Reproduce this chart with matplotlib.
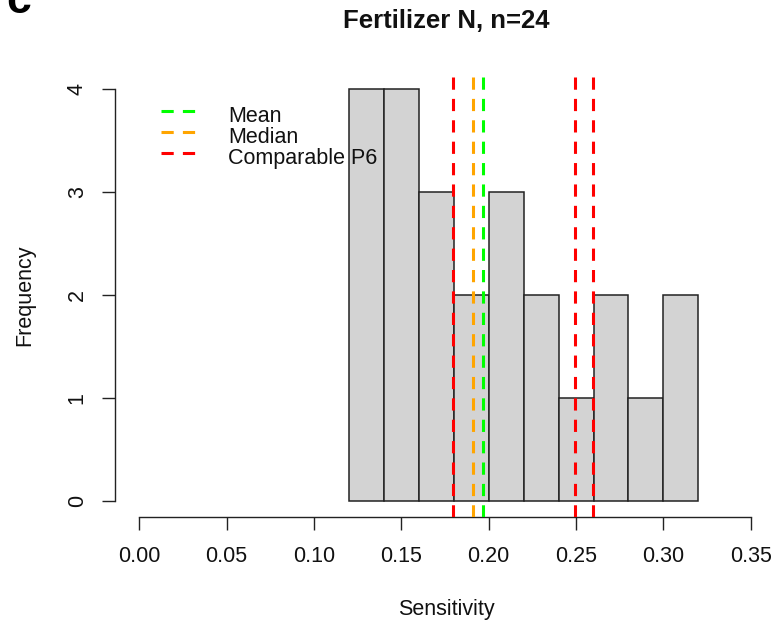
import matplotlib
matplotlib.use("Agg")
import matplotlib.pyplot as plt
import numpy as np

# ===== DATA =====
bin_edges = [0.12, 0.14, 0.16, 0.18, 0.20, 0.22, 0.24, 0.26, 0.28, 0.30, 0.32]
counts = [4, 4, 3, 2, 3, 2, 1, 2, 1, 2]
mean_sens = 0.197
median_sens = 0.191
p6_sens = [0.1795, 0.2495, 0.2595]

x_ticks = [0.00, 0.05, 0.10, 0.15, 0.20, 0.25, 0.30, 0.35]
x_tick_labels = ["0.00", "0.05", "0.10", "0.15", "0.20", "0.25", "0.30", "0.35"]
y_ticks = [0, 1, 2, 3, 4]

title = "Fertilizer N, n=24"
legend_labels = ["Mean", "Median", "Comparable P6"]
legend_colors = ["#00FF00", "#FFA500", "#FF0000"]

# ===== FIGURE =====
W, H = 774, 623
plt.rcParams["font.family"] = ["Liberation Sans", "DejaVu Sans"]
fig = plt.figure(figsize=(W / 100, H / 100), dpi=100)


def fx(px):
    return px / W


def fy(py):
    return 1 - py / H


# plot region in pixels (R-style: data range padded by 4%)
left, right, top, bottom = 114.8, 775.2, 72.5, 517.2
ax = fig.add_axes([fx(left), fy(bottom), fx(right - left), (bottom - top) / H])

ax.hist(bin_edges[:-1], bins=bin_edges, weights=counts,
        color="#D3D3D3", edgecolor="#222222", linewidth=1.1, zorder=2)

dash = (0, (4, 3))
lw = 2.2
ax.axvline(mean_sens, color=legend_colors[0], lw=lw, linestyle=dash, zorder=3)
ax.axvline(median_sens, color=legend_colors[1], lw=lw, linestyle=dash, zorder=3)
for v in p6_sens:
    ax.axvline(v, color=legend_colors[2], lw=lw, linestyle=dash, zorder=3)

ax.set_xlim(-0.014, 0.364)
ax.set_ylim(-0.16, 4.16)

for side in ["top", "right"]:
    ax.spines[side].set_visible(False)
ax.spines["left"].set_bounds(0, 4)
ax.spines["bottom"].set_bounds(0, 0.35)
for side in ["left", "bottom"]:
    ax.spines[side].set_linewidth(1.0)
    ax.spines[side].set_color("#222222")

ax.set_xticks(x_ticks)
ax.set_xticklabels(x_tick_labels)
ax.set_yticks(y_ticks)
ax.tick_params(axis="both", length=9.4, width=1.0, color="#222222",
               labelsize=15.5, labelcolor="#111111")
ax.tick_params(axis="x", pad=11)
ax.tick_params(axis="y", pad=10)
for lab in ax.get_yticklabels():
    lab.set_rotation(90)
    lab.set_va("center")

# axis titles and main title
fig.text(fx(446), fy(610), "Sensitivity", ha="center", va="center",
         fontsize=15.5, color="#111111")
fig.text(fx(25), fy(295), "Frequency", ha="center", va="center",
         rotation=90, fontsize=15.5, color="#111111")
fig.text(fx(446), fy(28), title, ha="center", va="baseline",
         fontsize=18.5, fontweight="bold", color="#111111")

# legend without box, drawn over the bars
rows_y = [110.7, 131.7, 152.7]
for label, color, ry in zip(legend_labels, legend_colors, rows_y):
    fig.add_artist(plt.Line2D([fx(161), fx(195)], [fy(ry), fy(ry)],
                              color=color, lw=lw, linestyle=dash))
    fig.text(fx(228), fy(ry + 11), label, ha="left", va="baseline",
             fontsize=15.5, color="#111111", zorder=10)

# panel letter, partly above the top edge
fig.text(fx(6), fy(13), "c", ha="left", va="baseline",
         fontsize=32, fontweight="bold", color="black")

fig.savefig("out.png", dpi=100)
